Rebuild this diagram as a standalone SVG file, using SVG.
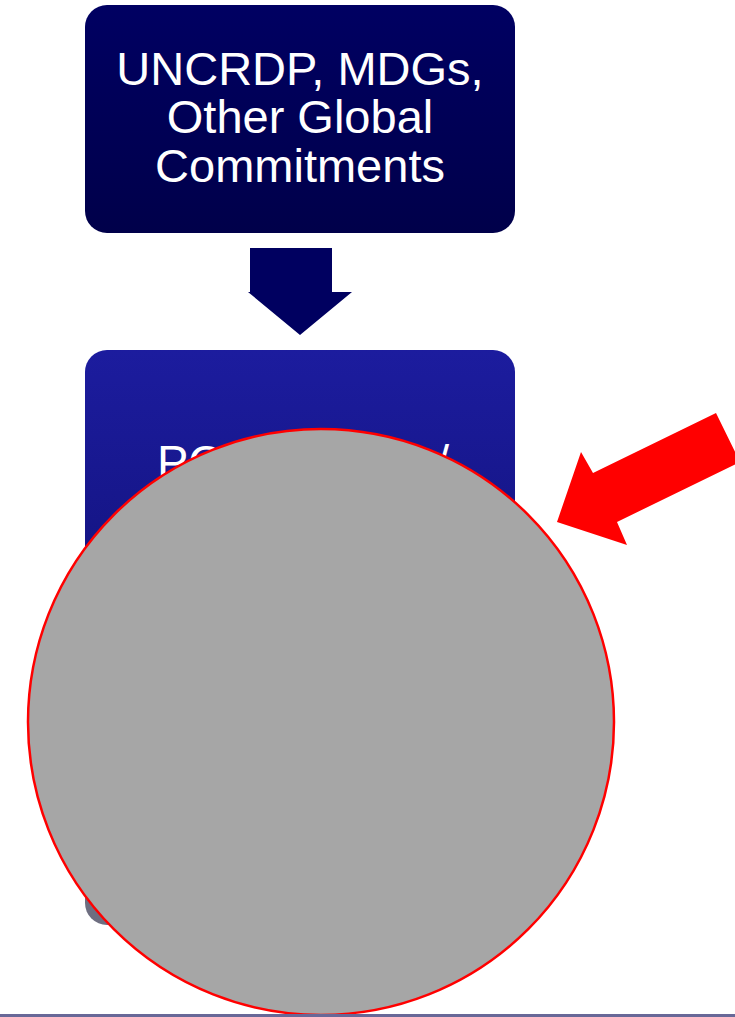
<svg xmlns="http://www.w3.org/2000/svg" width="735" height="1017" viewBox="0 0 735 1017">
<style>
.lbl{font-family:"Liberation Sans",Arial,sans-serif;font-size:47px;fill:#ffffff;}
</style>
<defs>
<linearGradient id="g1" x1="0" y1="0" x2="0" y2="1">
<stop offset="0" stop-color="#000062"/>
<stop offset="1" stop-color="#00004a"/>
</linearGradient>
<linearGradient id="g2" x1="0" y1="0" x2="0" y2="1">
<stop offset="0" stop-color="#1c1c9e"/>
<stop offset="0.35" stop-color="#151586"/>
<stop offset="0.9" stop-color="#6e6e82"/>
<stop offset="1" stop-color="#6e6e80"/>
</linearGradient>
</defs>
<rect x="0" y="0" width="735" height="1017" fill="#ffffff"/>
<g id="node-global">
<rect x="85" y="5" width="430" height="228" rx="22" fill="url(#g1)"/>
<text class="lbl" text-anchor="middle"><tspan x="300" y="85">UNCRDP, MDGs,</tspan><tspan x="300" y="133">Other Global</tspan><tspan x="300" y="182">Commitments</tspan></text>
</g>
<g id="node-second">
<rect x="85" y="350" width="430" height="575" rx="22" fill="url(#g2)"/>
<text class="lbl" x="157" y="478">PC</text>
<text class="lbl" x="436" y="478">/</text>
</g>
<g id="connectors">
<polygon points="250,248 332,248 332,292 352,292 300,335 248,292 250,292" fill="#000060"/>
</g>
<g id="overlay">
<circle cx="321" cy="722" r="293" fill="#a6a6a6" stroke="#ff0000" stroke-width="2.5"/>
<polygon points="557,522 581,452 593,473 716,413 740,462 617,522 627,545" fill="#ff0000"/>
</g>
<rect x="0" y="1014" width="735" height="3" fill="#686898"/>
</svg>
